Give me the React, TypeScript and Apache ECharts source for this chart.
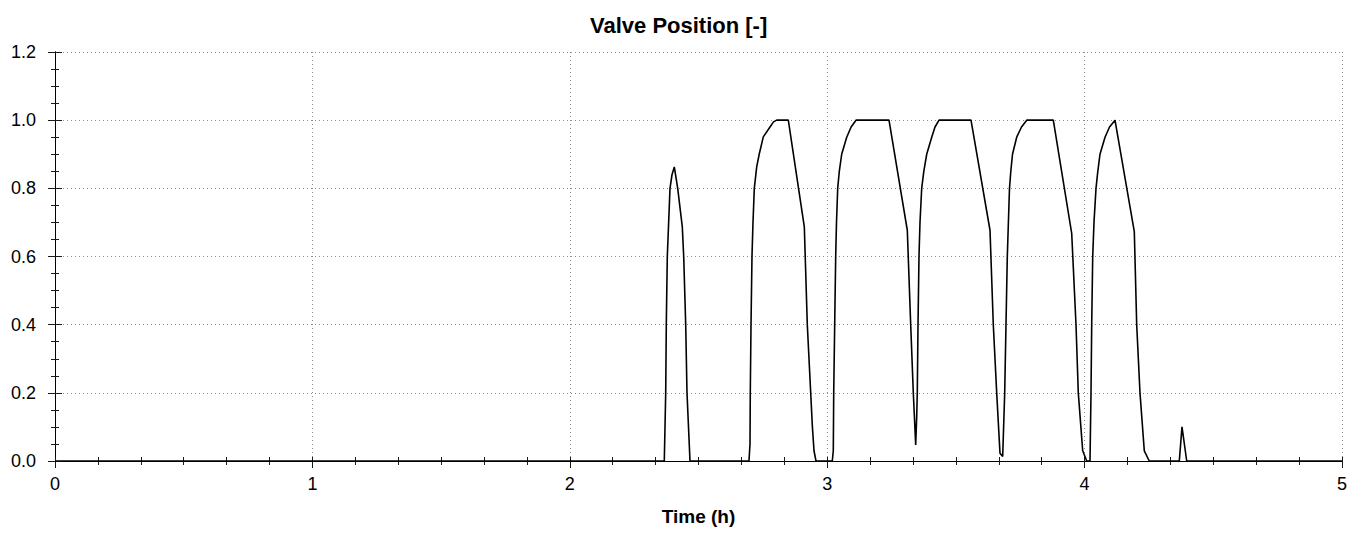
import React, { useEffect, useRef } from "react";
import * as echarts from "echarts";

const TITLE = "Valve Position [-]";
const X_NAME = "Time (h)";
const X_MIN = 0;
const X_MAX = 5;
const Y_MIN = 0;
const Y_MAX = 1.2;

const timeH: number[] = [
  0, 2.3671, 2.3726, 2.3749, 2.3788, 2.3893, 2.3971, 2.406, 2.4192, 2.4371, 2.4425, 2.4503, 2.4553, 2.467,
  2.6962, 2.7001, 2.7012, 2.704, 2.7078, 2.7117, 2.7168, 2.7261, 2.7358, 2.7517, 2.7778, 2.7914, 2.8038, 2.8489, 2.9111, 2.9227, 2.9359, 2.9425, 2.9487, 2.9565,
  3.0198, 3.0237, 3.0253, 3.0291, 3.033, 3.0361, 3.0408, 3.047, 3.0563, 3.0758, 3.0929, 3.1119, 3.2401, 3.3112, 3.3244, 3.3345, 3.3438,
  3.3477, 3.35, 3.3528, 3.3566, 3.3605, 3.3671, 3.3753, 3.3866, 3.406, 3.4188, 3.4344, 3.5587, 3.6325, 3.6453, 3.6585, 3.6713, 3.6818,
  3.6896, 3.6946, 3.6997, 3.7082, 3.7133, 3.7199, 3.7362, 3.7549, 3.7751, 3.8784, 3.9499, 3.9666, 3.9755, 3.9926, 4.0082, 4.021,
  4.0249, 4.0276, 4.0315, 4.0365, 4.0443, 4.0513, 4.0598, 4.0793, 4.0968, 4.1181, 4.1931, 4.2024, 4.2152, 4.2319, 4.2513,
  4.3679, 4.3784, 4.3967, 5,
];

const valvePos: number[] = [
  0, 0, 0.2, 0.4, 0.6, 0.8, 0.84, 0.863, 0.8, 0.687, 0.6, 0.4, 0.2, 0,
  0, 0.05, 0.2, 0.4, 0.6, 0.7, 0.8, 0.863, 0.9, 0.951, 0.98, 0.995, 1.0, 1.0, 0.687, 0.4, 0.2, 0.1, 0.03, 0,
  0, 0.03, 0.2, 0.4, 0.6, 0.7, 0.8, 0.85, 0.9, 0.95, 0.98, 1.0, 1.0, 0.677, 0.4, 0.2, 0.047,
  0.13, 0.2, 0.4, 0.6, 0.7, 0.8, 0.85, 0.9, 0.95, 0.98, 1.0, 1.0, 0.677, 0.4, 0.2, 0.023, 0.013,
  0.2, 0.4, 0.6, 0.8, 0.85, 0.9, 0.95, 0.98, 1.0, 1.0, 0.668, 0.4, 0.2, 0.03, 0, 0,
  0.2, 0.4, 0.6, 0.7, 0.8, 0.85, 0.9, 0.95, 0.98, 1.0, 0.673, 0.4, 0.2, 0.03, 0,
  0, 0.1, 0, 0,
];

const FONT = "'Liberation Sans', Arial, sans-serif";

export default function App() {
  const ref = useRef<HTMLDivElement>(null);

  useEffect(() => {
    document.body.style.margin = "0";
    if (!ref.current) return;
    const chart = echarts.init(ref.current, undefined, { renderer: "svg" });
    const data = timeH.map((t, i) => [t, valvePos[i]]);
    const tickColor = "#1a1a1a";
    const gridLine = { show: true, lineStyle: { color: "#8a8a8a", type: [1, 3] as any, width: 1 } };

    chart.setOption({
      animation: false,
      backgroundColor: "#ffffff",
      title: {
        text: TITLE,
        left: 585,
        top: 9,
        textStyle: { fontFamily: FONT, fontSize: 22, fontWeight: "bold", color: "#000" },
      },
      grid: { left: 55, right: 24, top: 52, bottom: 73, containLabel: false },
      xAxis: [
        {
          type: "value",
          position: "bottom",
          min: X_MIN,
          max: X_MAX,
          interval: 1,
          name: X_NAME,
          nameLocation: "middle",
          nameGap: 46,
          nameTextStyle: { fontFamily: FONT, fontSize: 19, fontWeight: "bold", color: "#000" },
          axisLine: { show: true, lineStyle: { color: "#000", width: 1 } },
          axisTick: { show: true, inside: false, length: 7, lineStyle: { color: tickColor } },
          minorTick: { show: true, splitNumber: 6, length: 3, lineStyle: { color: tickColor } },
          axisLabel: { fontFamily: FONT, fontSize: 18, color: "#000", margin: 14 },
          splitLine: gridLine,
        },
        {
          type: "value",
          position: "bottom",
          min: X_MIN,
          max: X_MAX,
          interval: 1,
          axisLine: { show: false },
          axisTick: { show: true, inside: true, length: 4, lineStyle: { color: tickColor } },
          minorTick: { show: true, splitNumber: 6, length: 4, lineStyle: { color: tickColor } },
          axisLabel: { show: false },
          splitLine: { show: false },
        },
        {
          type: "value",
          position: "top",
          min: X_MIN,
          max: X_MAX,
          interval: 1,
          axisLine: { show: true, lineStyle: { color: "#000", width: 1 } },
          axisTick: { show: true, inside: true, length: 4, lineStyle: { color: tickColor } },
          minorTick: { show: true, splitNumber: 6, length: 4, lineStyle: { color: tickColor } },
          axisLabel: { show: false },
          splitLine: { show: false },
        },
      ],
      yAxis: [
        {
          type: "value",
          position: "left",
          min: Y_MIN,
          max: Y_MAX,
          interval: 0.2,
          axisLine: { show: true, lineStyle: { color: "#000", width: 1 } },
          axisTick: { show: true, inside: false, length: 7, lineStyle: { color: tickColor } },
          minorTick: { show: true, splitNumber: 4, length: 4, lineStyle: { color: tickColor } },
          axisLabel: {
            fontFamily: FONT,
            fontSize: 18,
            color: "#000",
            margin: 19,
            formatter: (v: number) => v.toFixed(1),
          },
          splitLine: gridLine,
        },
        {
          type: "value",
          position: "left",
          min: Y_MIN,
          max: Y_MAX,
          interval: 0.2,
          axisLine: { show: false },
          axisTick: { show: true, inside: true, length: 7, lineStyle: { color: tickColor } },
          minorTick: { show: true, splitNumber: 4, length: 4, lineStyle: { color: tickColor } },
          axisLabel: { show: false },
          splitLine: { show: false },
        },
        {
          type: "value",
          position: "right",
          min: Y_MIN,
          max: Y_MAX,
          interval: 0.2,
          axisLine: { show: true, lineStyle: { color: "#000", width: 1 } },
          axisTick: { show: true, inside: true, length: 4, lineStyle: { color: tickColor } },
          minorTick: { show: true, splitNumber: 4, length: 4, lineStyle: { color: tickColor } },
          axisLabel: { show: false },
          splitLine: { show: false },
        },
      ],
      series: [
        {
          type: "line",
          xAxisIndex: 0,
          yAxisIndex: 0,
          data,
          showSymbol: false,
          symbol: "none",
          smooth: false,
          lineStyle: { color: "#000", width: 1.6 },
          z: 5,
        },
      ],
    });

    return () => chart.dispose();
  }, []);

  return <div ref={ref} style={{ width: 1366, height: 534 }} />;
}
